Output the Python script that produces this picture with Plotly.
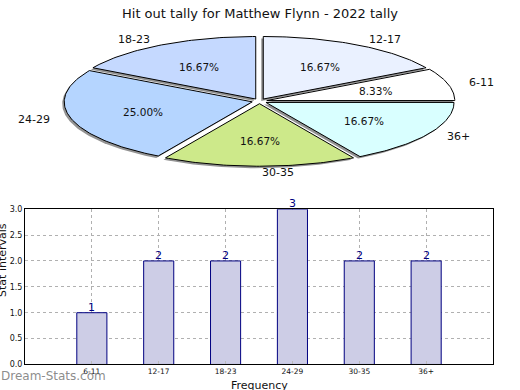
import math
import plotly.graph_objects as go

title = "Hit out tally for Matthew Flynn - 2022 tally"
categories = ["6-11", "12-17", "18-23", "24-29", "30-35", "36+"]
counts = [1, 2, 2, 3, 2, 2]
slice_colors = ["#ffffff", "#eaf1ff", "#c5d9ff", "#b5d5ff", "#cde98a", "#d9ffff"]
y_ticks = [0.0, 0.5, 1.0, 1.5, 2.0, 2.5, 3.0]

FONT = "DejaVu Sans"
# pie geometry in pixel space of the top panel
CX, CY, RX, RY = 259.5, 99.5, 188.0, 64.0
EXPLODE = 0.04

fig = go.Figure()

total = sum(counts)
start = 0.0
annotations = []
shadow_traces = []
wedge_traces = []
for cat, val, col in zip(categories, counts, slice_colors):
    sweep = 360.0 * val / total
    t1, t2 = start, start + sweep
    mid = math.radians((t1 + t2) / 2)
    ox = CX + EXPLODE * RX * math.cos(mid)
    oy = CY - EXPLODE * RY * math.sin(mid)
    n = max(8, int(sweep))
    xs, ys = [ox], [oy]
    for i in range(n + 1):
        a = math.radians(t1 + (t2 - t1) * i / n)
        xs.append(ox + RX * math.cos(a))
        ys.append(oy - RY * math.sin(a))
    xs.append(ox); ys.append(oy)
    shadow_traces.append(go.Scatter(x=[v - 2 for v in xs], y=[v + 2 for v in ys], mode="lines",
                                    fill="toself", fillcolor="rgba(40,40,40,0.5)",
                                    line=dict(width=0), hoverinfo="skip", showlegend=False,
                                    xaxis="x2", yaxis="y2"))
    wedge_traces.append(go.Scatter(x=xs, y=ys, mode="lines", fill="toself", fillcolor=col,
                                   line=dict(color="black", width=1), name=cat,
                                   hoverinfo="skip", showlegend=False,
                                   xaxis="x2", yaxis="y2"))
    lx = ox + 1.1 * RX * math.cos(mid)
    ly = oy - 1.1 * RY * math.sin(mid)
    annotations.append(dict(x=lx, y=ly, xref="x2", yref="y2", text=cat, showarrow=False,
                            xanchor="left" if math.cos(mid) > -1e-9 else "right",
                            yanchor="middle", font=dict(family=FONT, size=11, color="#111")))
    px = ox + 0.6 * RX * math.cos(mid)
    py = oy - 0.6 * RY * math.sin(mid)
    annotations.append(dict(x=px, y=py, xref="x2", yref="y2", text="%.2f%%" % (100.0 * val / total),
                            showarrow=False, xanchor="center", yanchor="middle",
                            font=dict(family=FONT, size=10.5, color="#111")))
    start = t2

for t in shadow_traces + wedge_traces:
    fig.add_trace(t)

fig.add_trace(go.Bar(x=categories, y=counts, width=0.45,
                     marker=dict(color="#cdcde6", line=dict(color="#000080", width=1)),
                     showlegend=False, xaxis="x", yaxis="y", hoverinfo="skip"))

# value labels sitting on the bar tops
for cat, val in zip(categories, counts):
    annotations.append(dict(x=cat, y=val, xref="x", yref="y", text=str(val), showarrow=False,
                            xanchor="center", yanchor="bottom", yshift=-3,
                            font=dict(family=FONT, size=11, color="#000080")))

annotations += [
    dict(x=0.5, y=10, xref="paper", yref="y2", text=title, showarrow=False,
         xanchor="center", yanchor="middle", font=dict(family=FONT, size=13, color="#111")),
    dict(x=3 / 520, y=(390 - 262) / 390, xref="paper", yref="paper", text="Stat intervals",
         textangle=-90, showarrow=False, xanchor="center", yanchor="middle",
         font=dict(family=FONT, size=11, color="#111")),
    dict(x=259 / 520, y=(390 - 391) / 390, xref="paper", yref="paper", text="Frequency",
         showarrow=False, xanchor="center", yanchor="middle",
         font=dict(family=FONT, size=11, color="#111")),
    dict(x=0, y=0, xref="paper", yref="paper", text="Dream-Stats.com", showarrow=False,
         xanchor="left", yanchor="bottom", yshift=0, xshift=-1,
         font=dict(family=FONT, size=12, color="rgba(110,110,110,0.8)")),
]

axis_common = dict(showline=True, mirror=True, linecolor="black", linewidth=1,
                   showgrid=True, gridcolor="#b0b0b0", griddash="dot", gridwidth=1,
                   ticks="inside", ticklen=3, tickcolor="#bbbbbb",
                   tickfont=dict(family=FONT, size=8, color="#111"), layer="above traces",
                   zeroline=False, fixedrange=True)

fig.update_layout(
    width=520, height=390, margin=dict(l=0, r=0, t=0, b=0),
    paper_bgcolor="white", plot_bgcolor="white",
    font=dict(family=FONT, color="#111"),
    annotations=annotations,
    xaxis=dict(domain=[25 / 520, 493 / 520], anchor="y", type="category",
               range=[-1, 6], **axis_common),
    yaxis=dict(domain=[21 / 390, 180 / 390], anchor="x", range=[0, 3],
               tickvals=y_ticks, ticktext=["%.1f" % v for v in y_ticks], **axis_common),
    xaxis2=dict(domain=[0, 1], anchor="y2", range=[0, 520], visible=False, fixedrange=True),
    yaxis2=dict(domain=[195 / 390, 1], anchor="x2", range=[195, 0], visible=False, fixedrange=True),
)
fig.update_xaxes(tickfont=dict(size=7.5), selector=dict(type="category"))

post = (
    "document.documentElement.style.margin='0';"
    "document.documentElement.style.overflow='hidden';"
    "document.body.style.margin='0';"
    "document.body.style.padding='0';"
    "document.body.style.overflow='hidden';"
    "document.body.style.height='390px';"
    "var d=document.getElementById('{plot_id}');"
    "d.parentNode.style.height='390px';d.parentNode.style.overflow='hidden';"
)
fig.write_html("out.html", config={"displayModeBar": False, "staticPlot": True}, post_script=post)
